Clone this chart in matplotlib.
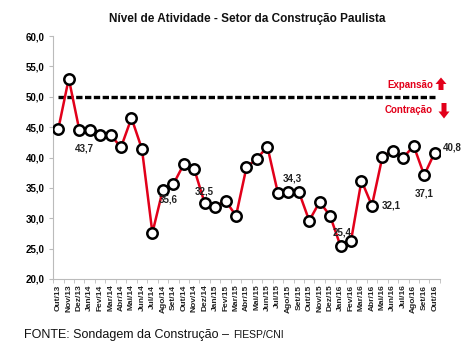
import matplotlib
matplotlib.use("Agg")
import matplotlib.pyplot as plt
from matplotlib.ticker import FuncFormatter
from matplotlib.patches import FancyArrow

plt.rcParams['font.family'] = ['Liberation Sans', 'DejaVu Sans']

months = ["Out/13", "Nov/13", "Dez/13", "Jan/14", "Fev/14", "Mar/14", "Abr/14", "Mai/14", "Jun/14",
          "Jul/14", "Ago/14", "Set/14", "Out/14", "Nov/14", "Dez/14", "Jan/15", "Fev/15", "Mar/15",
          "Abr/15", "Mai/15", "Jun/15", "Jul/15", "Ago/15", "Set/15", "Out/15", "Nov/15", "Dez/15",
          "Jan/16", "Fev/16", "Mar/16", "Abr/16", "Mai/16", "Jun/16", "Jul/16", "Ago/16", "Set/16", "Out/16"]
values = [44.7, 53.0, 44.6, 44.6, 43.7, 43.7, 41.7, 46.5, 41.4,
          27.6, 34.7, 35.6, 38.9, 38.1, 32.5, 31.9, 32.9, 30.4,
          38.4, 39.8, 41.8, 34.2, 34.3, 34.4, 29.6, 32.7, 30.4,
          25.4, 26.3, 36.2, 32.1, 40.1, 41.1, 40.0, 41.9, 37.1, 40.8]
threshold = 50.0
# labelled points: index -> text offset in points
labels = {4: (-11, -10), 11: (-4, -11), 14: (0, 8), 22: (3, 10), 27: (1, 10), 30: (14, 0), 35: (0, -13), 36: (13, 4)}

fig = plt.figure(figsize=(4.74, 3.57), dpi=100)
ax = fig.add_axes([0.112, 0.2185, 0.816, 0.6805])

x = list(range(len(months)))
ax.plot(x, [threshold] * len(x), color='black', lw=2.4, dashes=(1.9, 0.75), zorder=2)
ax.plot(x, values, color='#e2001a', lw=1.8, zorder=3,
        marker='o', markersize=7.5, markerfacecolor='white', markeredgecolor='black', markeredgewidth=1.8)

for i, (dx, dy) in labels.items():
    ax.annotate(f"{values[i]:.1f}".replace('.', ','), xy=(i, values[i]), xytext=(dx, dy),
                textcoords='offset points', ha='center', va='center',
                fontsize=7, fontweight='bold', color='#222222', zorder=4)

ax.set_xlim(-0.5, len(months) - 0.5)
ax.set_ylim(20, 60)
ax.set_yticks(range(20, 61, 5))
ax.yaxis.set_major_formatter(FuncFormatter(lambda v, p: f"{v:.1f}".replace('.', ',')))
ax.set_xticks(x)
ax.set_xticklabels(months, rotation=90, fontsize=6, fontweight='bold', color='#222222')
ax.set_xticks([i - 0.5 for i in range(len(months) + 1)], minor=True)
ax.tick_params(axis='x', which='major', length=0, pad=4)
ax.tick_params(axis='x', which='minor', length=3, color='#bbbbbb')
ax.tick_params(axis='y', labelsize=7, length=3, color='#bbbbbb', pad=3)
for lab in ax.get_yticklabels():
    lab.set_fontweight('bold')
for s in ['top', 'right']:
    ax.spines[s].set_visible(False)
for s in ['left', 'bottom']:
    ax.spines[s].set_color('#bbbbbb')
    ax.spines[s].set_linewidth(0.8)

# Legend-like annotations
ax.text(0.984, 0.798, "Expansão", transform=ax.transAxes, ha='right', va='center',
        fontsize=7, fontweight='bold', color='#e2001a')
ax.text(0.982, 0.695, "Contração", transform=ax.transAxes, ha='right', va='center',
        fontsize=7, fontweight='bold', color='#e2001a')
fig.patches.append(FancyArrow(4.41, 2.67, 0, 0.125, width=0.05, head_width=0.11, head_length=0.065,
                              length_includes_head=True, color='#e2001a', lw=0,
                              transform=fig.dpi_scale_trans, figure=fig))
fig.patches.append(FancyArrow(4.44, 2.54, 0, -0.155, width=0.05, head_width=0.11, head_length=0.07,
                              length_includes_head=True, color='#e2001a', lw=0,
                              transform=fig.dpi_scale_trans, figure=fig))

fig.text(0.522, 0.947, "Nível de Atividade - Setor da Construção Paulista", ha='center', va='center',
         fontsize=8.5, fontweight='bold', color='#111111')
t1 = fig.text(0.051, 0.062, "FONTE: Sondagem da Construção – ", ha='left', va='center',
              fontsize=9, color='#111111')
fig.canvas.draw()
bb = t1.get_window_extent()
fig.text(bb.x1 / fig.bbox.width, 0.062, "FIESP/CNI", ha='left', va='center', fontsize=7.5, color='#111111')

fig.savefig("out.png", dpi=100)
